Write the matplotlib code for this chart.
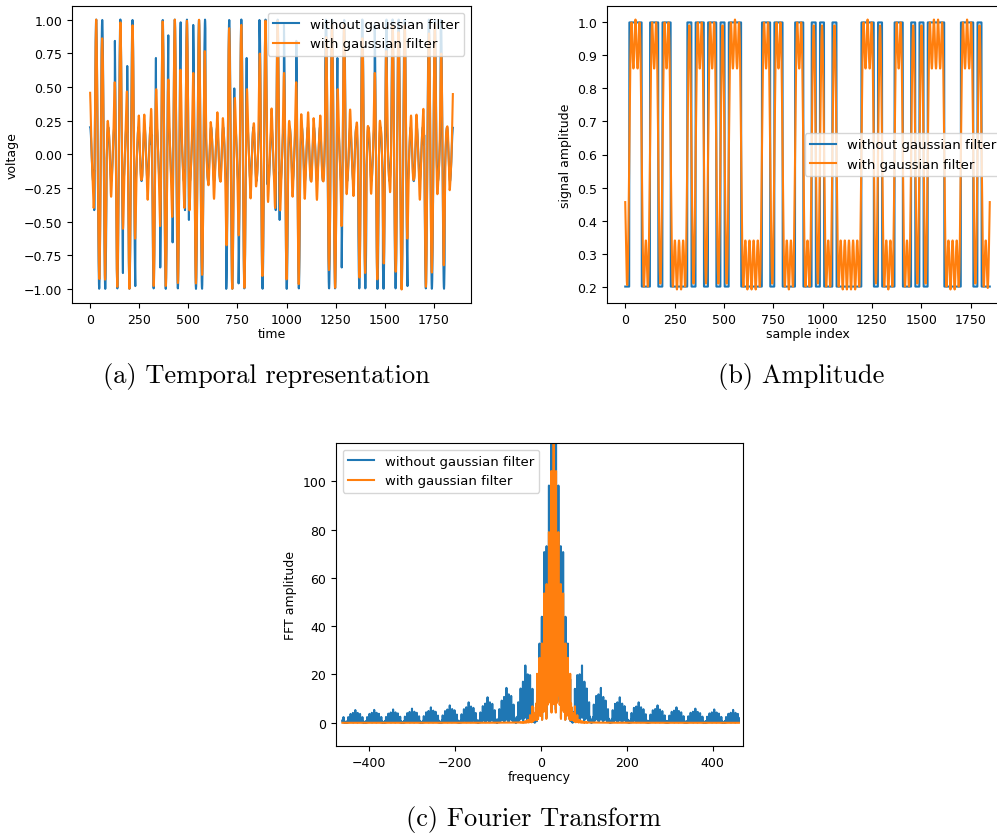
import numpy as np
import matplotlib.pyplot as plt

# bit pattern: run lengths, alternating low/high, starting low
bit_runs = [1, 3, 2, 2, 1, 2, 4, 1, 1, 2, 1, 2, 1, 1, 1, 3, 5, 2, 1, 2, 3, 2, 2,
            1, 1, 1, 2, 1, 6, 3, 1, 1, 3, 2, 2, 1, 1, 1, 1, 4, 4, 3, 1, 1, 2]
amp_low, amp_high = 0.2, 1.0
samples_per_bit = 21
fs = 924          # sampling rate (Hz)
f_carrier = 30    # carrier (Hz)
sigma = 7         # gaussian width in samples
fft_scale = 0.6   # normalisation of the plotted spectrum

labels = ["without gaussian filter", "with gaussian filter"]
captions = ["(a) Temporal representation", "(b) Amplitude", "(c) Fourier Transform"]

plt.rcParams["font.size"] = 9
plt.rcParams["legend.fontsize"] = 9.5

# build the ASK signal from the bits
bits = np.concatenate([np.full(r, i % 2) for i, r in enumerate(bit_runs)])
levels = np.where(bits == 1, amp_high, amp_low)
amp_raw = np.repeat(levels, samples_per_bit)
n = np.arange(len(amp_raw))

# gaussian shaping: one impulse per bit centre, smoothed by a gaussian kernel
mid = (amp_high + amp_low) / 2
half = (amp_high - amp_low) / 2
impulses = np.zeros(len(n))
impulses[samples_per_bit // 2::samples_per_bit] = 2 * bits - 1
k = np.arange(-4 * sigma, 4 * sigma + 1)
kernel = np.exp(-k ** 2 / (2 * sigma ** 2))
amp_gauss = mid + half * np.convolve(impulses, kernel, mode="same")

carrier = np.exp(2j * np.pi * f_carrier * n / fs)
sig_raw = amp_raw * carrier
sig_gauss = amp_gauss * carrier

freq = np.fft.fftshift(np.fft.fftfreq(len(n), 1 / fs))
spec_raw = fft_scale * np.abs(np.fft.fftshift(np.fft.fft(sig_raw)))
spec_gauss = fft_scale * np.abs(np.fft.fftshift(np.fft.fft(sig_gauss)))

W, H = 997, 837
fig = plt.figure(figsize=(W / 100, H / 100), dpi=100)

ax_a = fig.add_axes([72 / W, 1 - 304 / H, 399 / W, 297 / H])
ax_b = fig.add_axes([607 / W, 1 - 304 / H, 401 / W, 297 / H])
ax_c = fig.add_axes([336 / W, 1 - 747 / H, 407 / W, 303 / H])

ax_a.plot(n, sig_raw.real, label=labels[0])
ax_a.plot(n, sig_gauss.real, label=labels[1])
ax_a.set_xlabel("time", labelpad=1)
ax_a.set_ylabel("voltage")
ax_a.legend(loc="upper right")

ax_b.plot(n, np.abs(sig_raw), label=labels[0])
ax_b.plot(n, np.abs(sig_gauss), label=labels[1])
ax_b.set_xlabel("sample index", labelpad=1)
ax_b.set_ylabel("signal amplitude")
ax_b.legend(loc="center right")

ax_c.plot(freq, spec_raw, label=labels[0])
ax_c.plot(freq, spec_gauss, label=labels[1])
ax_c.set_xlim(-477, 471)
ax_c.set_ylim(-9.6, 115.8)
ax_c.set_xlabel("frequency", labelpad=1)
ax_c.set_ylabel("FFT amplitude")
ax_c.legend(loc="upper left")

fig.text(266 / W, 1 - 377 / H, captions[0], family="cmr10", fontsize=19, ha="center", va="center")
fig.text(801 / W, 1 - 377 / H, captions[1], family="cmr10", fontsize=19, ha="center", va="center")
fig.text(533 / W, 1 - 820 / H, captions[2], family="cmr10", fontsize=19, ha="center", va="center")

fig.savefig("out.png", dpi=100, facecolor="white")
